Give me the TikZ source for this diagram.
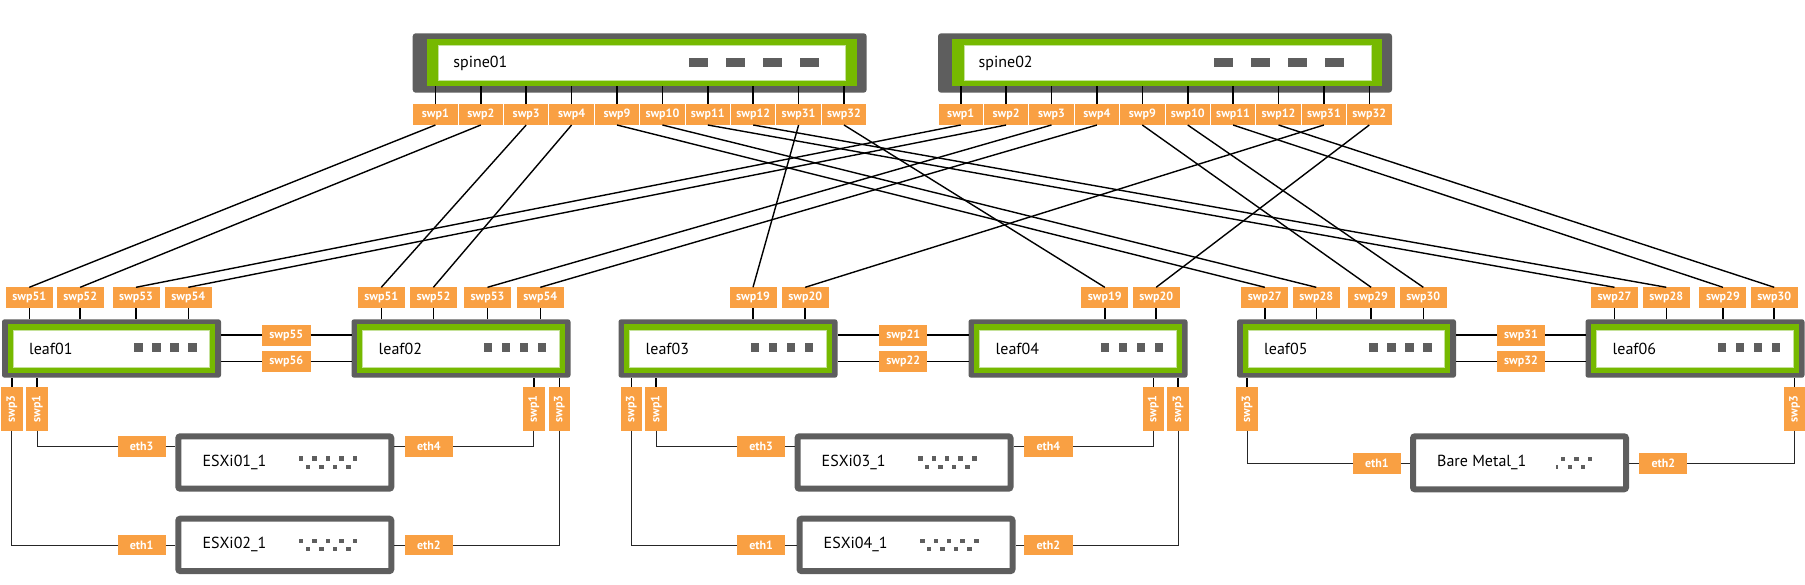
\documentclass[tikz,border=0pt]{standalone}
\usepackage{fontspec}
\setmainfont{PT Sans}
\definecolor{portor}{HTML}{F9A043}
\definecolor{nvgreen}{HTML}{76B900}
\definecolor{framegray}{HTML}{5E5E5E}
\definecolor{lightg}{HTML}{C5E29A}
\tikzset{
  port/.style={fill=portor, text=white, font=\fontsize{12}{13}\selectfont\bfseries, inner sep=0pt, outer sep=0pt, minimum width=44.4pt, minimum height=21pt, anchor=center},
  upport/.style={port, minimum width=47pt},
  isl/.style={port, minimum width=48.5pt, minimum height=21pt},
  vport/.style={port, rotate=90, minimum width=44pt, minimum height=21.5pt},
  ethport/.style={port, minimum width=48.2pt, minimum height=20.7pt},
  devtext/.style={font=\fontsize{16}{18}\selectfont, anchor=west, inner sep=0pt, text=black},
  tick/.style={line width=1.6pt, black},
  uplink/.style={line width=1.4pt, black},
  hostlink/.style={line width=0.9pt, black!85},
  outerbox/.style={fill=framegray, inner sep=0pt, outer sep=0pt},
  greenbox/.style={fill=nvgreen, inner sep=0pt, outer sep=0pt},
  whitebox/.style={fill=white, draw=lightg, line width=0.8pt, inner sep=0pt, outer sep=0pt},
  serverbox/.style={draw=framegray, line width=6pt, fill=white, rounded corners=2pt, inner sep=0pt, minimum width=213pt},
}
% spine device: #1 left x, #2 name, #3 text
\newcommand\spinedev[3]{%
  \node[outerbox, rounded corners=3pt, minimum width=454pt, minimum height=59.4pt] (#2) at ({#1+227},63) {};
  \node[greenbox, minimum width=430pt, minimum height=46.7pt] (#2g) at ({#1+229},62.35) {};
  \node[whitebox, minimum width=407pt, minimum height=35.2pt] (#2w) at ({#1+229.5},63) {};
  \node[devtext] (#2t) at ({#1+40.5},63) {#3};
  \foreach \dx in {276.3,313.3,350.3,387.3} \fill[framegray] ({#1+\dx},58) rectangle ++(18.5,9);
  \foreach \p [count=\i] in {1,2,3,4,9,10,11,12,31,32} {
    \node[port] (#2p\p) at ({#1+22.7+(\i-1)*45.4},114.5) {swp\p};
    \draw[tick] (#2p\p.north) -- (#2p\p.north |- #2g.south);
  }%
}
% leaf device: #1 left x, #2 name, #3 text
\newcommand\leafdev[3]{%
  \node[outerbox, rounded corners=2.5pt, minimum width=219pt, minimum height=58.4pt] (#2) at ({#1+109.5},348.5) {};
  \node[greenbox, minimum width=207.6pt, minimum height=49pt] (#2g) at ({#1+109.5},348.8) {};
  \node[whitebox, minimum width=196.3pt, minimum height=37.3pt] (#2w) at ({#1+109.5},348.65) {};
  \node[devtext] (#2t) at ({#1+27},348.7) {#3};
  \foreach \dx in {132,150,168,186} \fill[framegray] ({#1+\dx},343.3) rectangle ++(8.7,9);
}
% upper leaf port: #1 leaf, #2 port number, #3 x
\newcommand\uport[3]{%
  \node[upport] (#1p#2) at (#3,297.8) {swp#2};
  \draw[tick] (#1p#2.south) -- (#1p#2.south |- #1.north);
}
% lower leaf port (vertical): #1 leaf, #2 port number, #3 x
\newcommand\dport[3]{%
  \node[vport] (#1d#2) at (#3,408.7) {swp#2};
  \draw[tick] (#1d#2.east) -- (#1d#2.east |- #1.south);
}
% server: #1 left, #2 top, #3 name, #4 text, #5 inner height
\newcommand\serverdev[5]{%
  \node[serverbox, minimum height=#5pt] (#3) at ({#1+109.5},{#2+3+#5/2}) {};
  \node[devtext] (#3t) at ({#1+27},{#2+3+#5/2}) {#4};
}
\newcommand\esxidots[2]{%
  \foreach \dx in {125.9,139.3,152.7,166.1,179.8} \fill[framegray] ({#1+\dx-2.25},{#2+22.8}) rectangle ++(4.5,4.4);
  \foreach \dx in {132.7,146.2,159.7,173} \fill[framegray] ({#1+\dx-2.25},{#2+31.2}) rectangle ++(4.5,4.4);
}
\begin{document}
\begin{tikzpicture}[x=1pt,y=-1pt]
\useasboundingbox (0,0) rectangle (1805,585);

% spines
\spinedev{412.7}{spine01}{spine01}
\spinedev{938}{spine02}{spine02}

% leaves
\leafdev{2}{leaf01}{leaf01}
\leafdev{351.5}{leaf02}{leaf02}
\leafdev{618.5}{leaf03}{leaf03}
\leafdev{968.5}{leaf04}{leaf04}
\leafdev{1237}{leaf05}{leaf05}
\leafdev{1585.5}{leaf06}{leaf06}

% upper leaf ports
\uport{leaf01}{51}{29.3}  \uport{leaf01}{52}{80.2}  \uport{leaf01}{53}{136}   \uport{leaf01}{54}{188.3}
\uport{leaf02}{51}{381.3} \uport{leaf02}{52}{433.4} \uport{leaf02}{53}{487.5} \uport{leaf02}{54}{540.3}
\uport{leaf03}{19}{753}   \uport{leaf03}{20}{805.2}
\uport{leaf04}{19}{1104.8} \uport{leaf04}{20}{1156.2}
\uport{leaf05}{27}{1264.8} \uport{leaf05}{28}{1316.3} \uport{leaf05}{29}{1371.1} \uport{leaf05}{30}{1423.3}
\uport{leaf06}{27}{1614.5} \uport{leaf06}{28}{1666.3} \uport{leaf06}{29}{1722.9} \uport{leaf06}{30}{1774.2}

% peer links
\node[isl] (i55) at (286.3,335.3) {swp55};
\node[isl] (i56) at (286.3,361.7) {swp56};
\node[isl] (i21) at (903.2,335.3) {swp21};
\node[isl] (i22) at (903.2,361.7) {swp22};
\node[isl] (i31) at (1521,335.3) {swp31};
\node[isl] (i32) at (1521,361.7) {swp32};
\foreach \a/\b/\l in {leaf01/leaf02/i55,leaf01/leaf02/i56,leaf03/leaf04/i21,leaf03/leaf04/i22,leaf05/leaf06/i31,leaf05/leaf06/i32}{
  \draw[tick] (\l.west) -- (\l.west -| \a.east);
  \draw[tick] (\l.east) -- (\l.east -| \b.west);
}

% lower leaf ports
\dport{leaf01}{3}{11.9} \dport{leaf01}{1}{37.2}
\dport{leaf02}{1}{533.9} \dport{leaf02}{3}{559.3}
\dport{leaf03}{3}{631.3} \dport{leaf03}{1}{656.2}
\dport{leaf04}{1}{1153.3} \dport{leaf04}{3}{1178.2}
\dport{leaf05}{3}{1247}
\dport{leaf06}{3}{1794.5}

% servers
\serverdev{175.3}{433.3}{esxi01}{ESXi01\_1}{52.4}
\serverdev{175.3}{515.7}{esxi02}{ESXi02\_1}{52.4}
\serverdev{794.5}{433.3}{esxi03}{ESXi03\_1}{52.4}
\serverdev{796.5}{515.7}{esxi04}{ESXi04\_1}{52.4}
\serverdev{1410}{433.3}{bm}{Bare Metal\_1}{53}
\esxidots{175.3}{433.3}
\esxidots{175.3}{515.7}
\esxidots{794.5}{433.3}
\esxidots{796.5}{515.7}
\foreach \dx in {153.2,166.5,179.9} \fill[framegray] ({1410+\dx-2.2},456.5) rectangle ++(4.4,4.2);
\foreach \dx in {159.9,173.2} \fill[framegray] ({1410+\dx-2.2},465) rectangle ++(4.4,4.3);
\fill[framegray] (1556,465) rectangle ++(2.3,4.3);

% eth labels
\node[ethport] (e1eth3) at (141.6,446.3) {eth3};
\node[ethport] (e1eth4) at (428.9,446.3) {eth4};
\node[ethport] (e2eth1) at (141.6,545) {eth1};
\node[ethport] (e2eth2) at (428.9,545) {eth2};
\node[ethport] (e3eth3) at (761.1,446.3) {eth3};
\node[ethport] (e3eth4) at (1048.4,446.3) {eth4};
\node[ethport] (e4eth1) at (761.1,545) {eth1};
\node[ethport] (e4eth2) at (1048.4,545) {eth2};
\node[ethport] (bmeth1) at (1376.8,463.3) {eth1};
\node[ethport] (bmeth2) at (1663.3,463.3) {eth2};

% host links
\foreach \s/\e/\h in {leaf01d1/e1eth3/esxi01, leaf01d3/e2eth1/esxi02, leaf03d1/e3eth3/esxi03, leaf03d3/e4eth1/esxi04, leaf05d3/bmeth1/bm}{
  \draw[hostlink] (\s.west) |- (\e.west);
  \draw[hostlink] (\e.east) -- (\e.east -| \h.west);
}
\foreach \s/\e/\h in {leaf02d1/e1eth4/esxi01, leaf02d3/e2eth2/esxi02, leaf04d1/e3eth4/esxi03, leaf04d3/e4eth2/esxi04, leaf06d3/bmeth2/bm}{
  \draw[hostlink] (\s.west) |- (\e.east);
  \draw[hostlink] (\e.west) -- (\e.west -| \h.east);
}

% uplinks
\foreach \a/\b in {
  spine01p1/leaf01p51, spine01p2/leaf01p52, spine01p3/leaf02p51, spine01p4/leaf02p52,
  spine01p9/leaf05p27, spine01p10/leaf05p28, spine01p11/leaf06p27, spine01p12/leaf06p28,
  spine01p31/leaf03p19, spine01p32/leaf04p19,
  spine02p1/leaf01p53, spine02p2/leaf01p54, spine02p3/leaf02p53, spine02p4/leaf02p54,
  spine02p9/leaf05p29, spine02p10/leaf05p30, spine02p11/leaf06p29, spine02p12/leaf06p30,
  spine02p31/leaf03p20, spine02p32/leaf04p20}{
  \draw[uplink] (\a.south) -- (\b.north);
}
\end{tikzpicture}
\end{document}
